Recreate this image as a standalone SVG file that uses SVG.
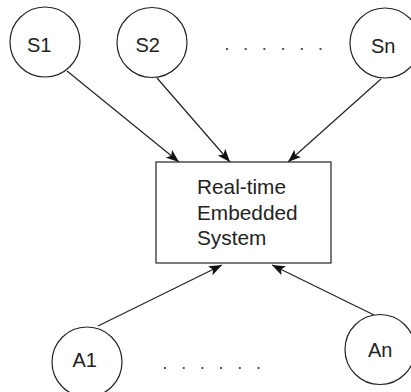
<svg xmlns="http://www.w3.org/2000/svg" width="411" height="392" viewBox="0 0 411 392">
<style>
.node{fill:#fff;stroke:#222;stroke-width:1.2}
.lbl{font-family:"Liberation Sans",Arial,sans-serif;font-size:20px;fill:#222}
.big{font-size:20.8px}
.edge{stroke:#222;stroke-width:1.2;fill:none;marker-end:url(#ah)}
.dot{fill:#555}
</style>
<defs>
<marker id="ah" markerUnits="userSpaceOnUse" markerWidth="14" markerHeight="10" refX="13" refY="5" orient="auto">
<path d="M0,0 L13,5 L0,10 L3,5 z" fill="#111"/>
</marker>
</defs>
<rect width="411" height="392" fill="#fff"/>
<g id="connectors">
<line class="edge" x1="67" y1="71" x2="179" y2="162"/>
<line class="edge" x1="157" y1="78" x2="230" y2="162"/>
<line class="edge" x1="381" y1="79" x2="288" y2="162"/>
<line class="edge" x1="98" y1="326" x2="222" y2="265"/>
<line class="edge" x1="374" y1="315" x2="272" y2="265"/>
</g>
<g id="S1"><circle class="node" cx="45" cy="42" r="35"/><text class="lbl" x="27" y="52">S1</text></g>
<g id="S2"><circle class="node" cx="152" cy="42.5" r="35"/><text class="lbl" x="135.5" y="52">S2</text></g>
<g id="Sn"><circle class="node" cx="385" cy="43" r="35"/><text class="lbl" x="371" y="53">Sn</text></g>
<g id="system"><rect class="node" x="156" y="162" width="175" height="101"/>
<text class="lbl big" x="197"><tspan x="197" y="194">Real-time</tspan><tspan x="197" y="220">Embedded</tspan><tspan x="197" y="245">System</tspan></text></g>
<g id="A1"><circle class="node" cx="87" cy="362" r="35"/><text class="lbl" x="72.5" y="366.5">A1</text></g>
<g id="An"><circle class="node" cx="380" cy="349.5" r="35"/><text class="lbl" x="368" y="357">An</text></g>
<g id="dots-top">
<rect class="dot" x="226" y="48" width="2" height="2"/><rect class="dot" x="244.7" y="48" width="2" height="2"/><rect class="dot" x="263.4" y="48" width="2" height="2"/><rect class="dot" x="282.1" y="48" width="2" height="2"/><rect class="dot" x="300.8" y="48" width="2" height="2"/><rect class="dot" x="319.5" y="48" width="2" height="2"/>
</g>
<g id="dots-bottom">
<rect class="dot" x="164" y="367" width="2" height="2"/><rect class="dot" x="182.7" y="367" width="2" height="2"/><rect class="dot" x="201.4" y="367" width="2" height="2"/><rect class="dot" x="220.1" y="367" width="2" height="2"/><rect class="dot" x="238.8" y="367" width="2" height="2"/><rect class="dot" x="257.5" y="367" width="2" height="2"/>
</g>
</svg>
